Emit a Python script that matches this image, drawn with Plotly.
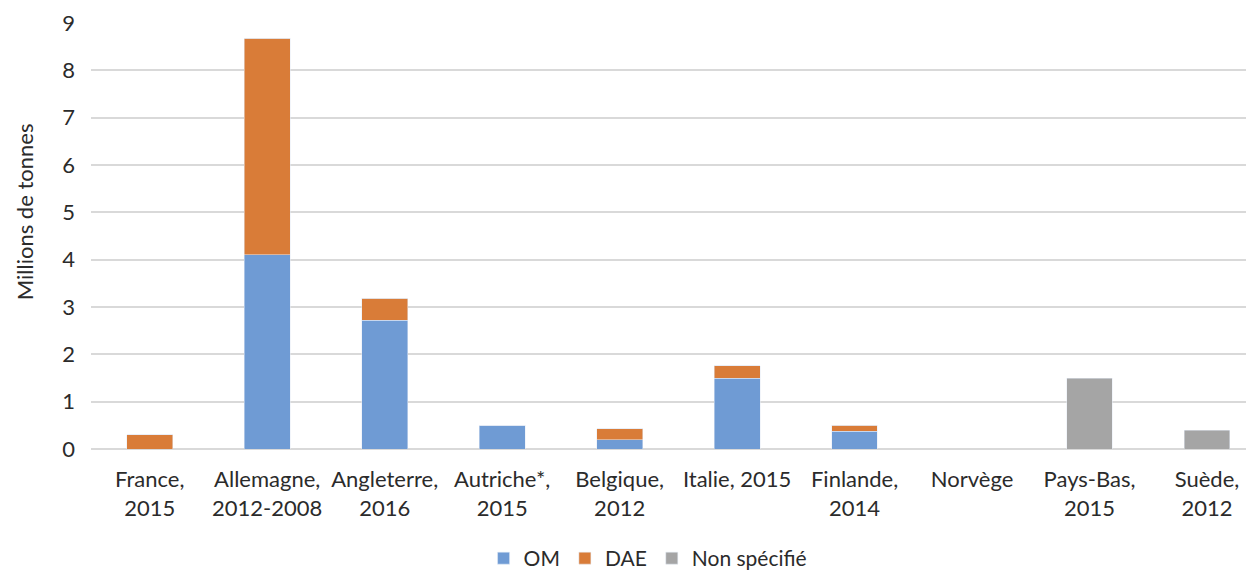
import plotly.graph_objects as go

categories = ["France,<br>2015", "Allemagne,<br>2012-2008", "Angleterre,<br>2016", "Autriche*,<br>2015",
              "Belgique,<br>2012", "Italie, 2015", "Finlande,<br>2014", "Norvège", "Pays-Bas,<br>2015", "Suède,<br>2012"]
om = [0, 4.1, 2.72, 0.5, 0.2, 1.5, 0.37, 0, 0, 0]
dae = [0.3, 4.58, 0.47, 0, 0.23, 0.26, 0.13, 0, 0, 0]
non_specifie = [0, 0, 0, 0, 0, 0, 0, 0, 1.5, 0.4]
y_ticks = [0, 1, 2, 3, 4, 5, 6, 7, 8, 9]
y_title = "Millions de tonnes"

font_family = "Lato, Open Sans, sans-serif"
text_color = "#2b2b2b"

fig = go.Figure()
fig.add_trace(go.Bar(x=list(range(len(categories))), y=om, name="OM", marker_color="#6f9bd4"))
fig.add_trace(go.Bar(x=list(range(len(categories))), y=dae, name="DAE", marker_color="#d97c38"))
fig.add_trace(go.Bar(x=list(range(len(categories))), y=non_specifie, name="Non spécifié", marker_color="#a5a5a5"))

fig.update_layout(
    width=1246, height=565,
    barmode="stack", bargap=0.61,
    plot_bgcolor="white", paper_bgcolor="white",
    margin=dict(l=83, r=0, t=15, b=124, autoexpand=False),
    font=dict(family=font_family, size=22, color=text_color),
    legend=dict(orientation="h", x=0.479, xanchor="center", y=-0.257, yanchor="middle",
                font=dict(size=21), traceorder="normal"),
    showlegend=True,
)
fig.add_annotation(
    text=y_title, textangle=-90, xref="paper", yref="paper",
    x=-0.0575, y=0.556, xanchor="center", yanchor="middle", showarrow=False,
    font=dict(size=22, color=text_color, family=font_family),
)
fig.update_xaxes(
    tickmode="array", tickvals=list(range(len(categories))), ticktext=categories,
    range=[-0.5, 9.4], showgrid=False, showline=False, ticks="", zeroline=False,
    tickfont=dict(size=22), ticklabelstandoff=15, automargin=False,
)
fig.update_yaxes(
    range=[0, 9], tickvals=y_ticks, showgrid=True, gridcolor="#d9d9d9", gridwidth=1.5,
    zeroline=True, zerolinecolor="#d9d9d9", zerolinewidth=1.5,
    ticks="", tickfont=dict(size=22), ticklabelstandoff=15, automargin=False,
)

fig.write_html("out.html")
